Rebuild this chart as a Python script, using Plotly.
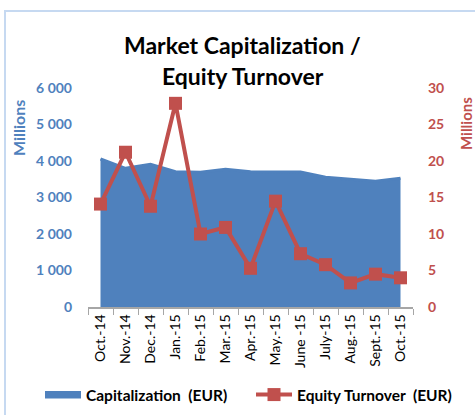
import plotly.graph_objects as go

months = ["Oct.-14", "Nov.-14", "Dec.-14", "Jan.-15", "Feb.-15", "Mar.-15", "Apr.-15",
          "May.-15", "June -15", "July-15", "Aug.-15", "Sept.-15", "Oct.-15"]
capitalization = [4055, 3800, 3910, 3707, 3690, 3772, 3707, 3707, 3700, 3553, 3507, 3443, 3525]
turnover = [14.1, 21.2, 13.8, 27.9, 10.0, 10.9, 5.3, 14.5, 7.3, 5.8, 3.3, 4.5, 4.0]
left_ticks = [0, 1000, 2000, 3000, 4000, 5000, 6000]
left_labels = ["0", "1\u00a0000", "2\u00a0000", "3\u00a0000", "4\u00a0000", "5\u00a0000", "6\u00a0000"]
right_ticks = [0, 5, 10, 15, 20, 25, 30]

BLUE = "#4F81BD"
RED = "#C0504D"
FONT = "Lato, Carlito, Calibri, sans-serif"

fig = go.Figure()
fig.add_trace(go.Scatter(
    x=months, y=capitalization, name="Capitalization  (EUR)",
    mode="lines", line=dict(color=BLUE, width=3), fill="tozeroy",
    fillcolor=BLUE, yaxis="y", legend="legend"))
fig.add_trace(go.Scatter(
    x=months, y=turnover, name="Equity Turnover  (EUR)",
    mode="lines+markers", line=dict(color=RED, width=4),
    marker=dict(symbol="square", size=13, color=RED), yaxis="y2", legend="legend2"))

legend_font = dict(size=15.5, color="black", family=FONT, weight="bold")
fig.update_layout(
    width=475, height=415,
    margin=dict(l=88, r=62, t=88, b=108),
    paper_bgcolor="white", plot_bgcolor="white",
    font=dict(family=FONT, color="black"),
    xaxis=dict(type="category", range=[-0.5, 12.5], tickangle=-90, automargin=False,
               showline=True, linecolor="#A6A6A6", linewidth=1.5,
               ticks="outside", tickson="boundaries", ticklen=6, tickcolor="#A6A6A6",
               showgrid=False, tickfont=dict(size=14, color="black", family=FONT)),
    yaxis=dict(range=[0, 6000], tickvals=left_ticks, ticktext=left_labels, automargin=False,
               showgrid=False, zeroline=False, showline=False,
               tickfont=dict(size=14, color=BLUE, family=FONT, weight="bold"),
               ticklabelstandoff=15),
    yaxis2=dict(range=[0, 30], tickvals=right_ticks, overlaying="y", side="right",
                automargin=False,
                showgrid=False, zeroline=False, showline=False,
                tickfont=dict(size=14, color=RED, family=FONT, weight="bold"),
                ticklabelstandoff=14),
    legend=dict(orientation="h", xref="container", x=40 / 475, xanchor="left",
                yref="container", y=(415 - 395) / 415, yanchor="middle",
                font=legend_font, itemwidth=36, bgcolor="rgba(0,0,0,0)"),
    legend2=dict(orientation="h", xref="container", x=251 / 475, xanchor="left",
                 yref="container", y=(415 - 395) / 415, yanchor="middle",
                 font=legend_font, itemwidth=36, bgcolor="rgba(0,0,0,0)"),
    showlegend=True,
)
# title lines
fig.add_annotation(text="<b>Market Capitalization /</b>", xref="paper", yref="paper",
                   x=0.476, y=(307 - 45) / 219, xanchor="center", yanchor="middle",
                   showarrow=False, font=dict(size=23, color="black", family=FONT))
fig.add_annotation(text="<b>Equity Turnover</b>", xref="paper", yref="paper",
                   x=0.476, y=(307 - 76) / 219, xanchor="center", yanchor="middle",
                   showarrow=False, font=dict(size=23, color="black", family=FONT))
# axis titles
fig.add_annotation(text="<b>Millions</b>", xref="paper", yref="paper",
                   x=(18 - 88) / 325, y=(307 - 128) / 219, xanchor="center", yanchor="middle",
                   textangle=-90, showarrow=False, font=dict(size=16, color=BLUE, family=FONT))
fig.add_annotation(text="<b>Millions</b>", xref="paper", yref="paper",
                   x=(466 - 88) / 325, y=(307 - 124) / 219, xanchor="center", yanchor="middle",
                   textangle=-90, showarrow=False, font=dict(size=15, color=RED, family=FONT))
# chart border (top and left edges visible)
fig.add_shape(type="rect", xref="paper", yref="paper",
              x0=(5 - 88) / 325, x1=2, y0=-1, y1=(307 - 11) / 219,
              line=dict(color="#C6D9F1", width=2), layer="below")
fig.write_html("out.html")
